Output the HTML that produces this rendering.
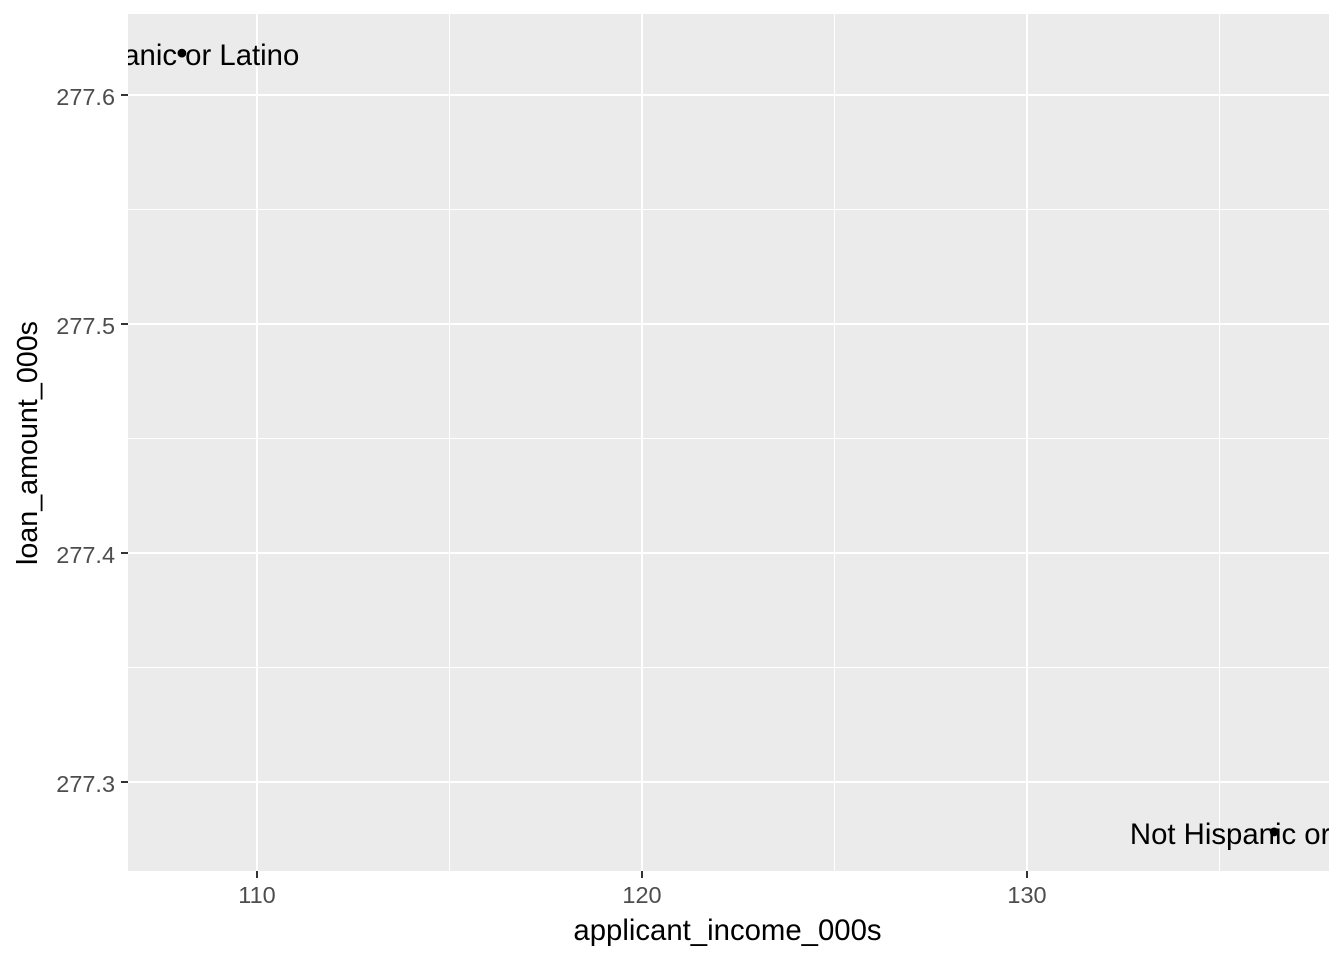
<!DOCTYPE html>
<html>
<head>
<meta charset="utf-8">
<title>Loan amount vs applicant income</title>
<style>
html,body{margin:0;padding:0;background:#fff;width:1344px;height:960px;overflow:hidden}
svg{display:block;font-family:"Liberation Sans",Arial,sans-serif}
</style>
</head>
<body>
<svg id="chart" width="1344" height="960" viewBox="0 0 1344 960" xmlns="http://www.w3.org/2000/svg">
<defs><clipPath id="panel-clip"><rect x="128" y="14" width="1201" height="857"/></clipPath></defs>
<rect x="128" y="14" width="1201" height="857" fill="#EBEBEB"/>
<g id="grid-group"></g>
<g id="tick-group"></g>
<g id="mark-group" clip-path="url(#panel-clip)"></g>
<text x="727.5" y="940" text-anchor="middle" font-size="29.33" fill="#000">applicant_income_000s</text>
<text transform="translate(37,443) rotate(-90)" text-anchor="middle" font-size="28.7" fill="#000">loan_amount_000s</text>
</svg>
<script>
const xTicks = [110, 120, 130];
const xMinor = [115, 125, 135];
const yTicks = [277.3, 277.4, 277.5, 277.6];
const yMinor = [277.35, 277.45, 277.55];
const incomes = [108.05, 136.42];
const loans = [277.6183, 277.2782];
const labels = ['Hispanic or Latino', 'Not Hispanic or Latino'];

const NS = 'http://www.w3.org/2000/svg';
const sx = v => 257 + (v - 110) * 38.5;
const sy = v => 95 + (277.6 - v) * 2290;
const panelLeft = 128, panelRight = 1329, panelTop = 14, panelBottom = 871;
const gridGroup = document.getElementById('grid-group');
const tickGroup = document.getElementById('tick-group');
const markGroup = document.getElementById('mark-group');

function drawLine(parent, x1, y1, x2, y2, color, width) {
  const l = document.createElementNS(NS, 'line');
  l.setAttribute('x1', x1);
  l.setAttribute('y1', y1);
  l.setAttribute('x2', x2);
  l.setAttribute('y2', y2);
  l.setAttribute('stroke', color);
  l.setAttribute('stroke-width', width);
  parent.appendChild(l);
  return l;
}
function drawText(parent, x, y, str, anchor, size, color) {
  const t = document.createElementNS(NS, 'text');
  t.setAttribute('x', x);
  t.setAttribute('y', y);
  t.setAttribute('text-anchor', anchor);
  t.setAttribute('font-size', size);
  t.setAttribute('fill', color);
  t.textContent = str;
  parent.appendChild(t);
  return t;
}

xMinor.forEach(v => {
  const l = drawLine(gridGroup, sx(v), panelTop, sx(v), panelBottom, '#fff', 1);
  
  
});
yMinor.forEach(v => {
  const l = drawLine(gridGroup, panelLeft, sy(v), panelRight, sy(v), '#fff', 1);
  
  
});
xTicks.forEach(v => {
  const g = drawLine(gridGroup, sx(v), panelTop, sx(v), panelBottom, '#fff', 2);
  
  
  const m = drawLine(tickGroup, sx(v), panelBottom, sx(v), panelBottom + 7, '#333', 2);
  
  
  const t = drawText(tickGroup, sx(v), 903, String(v), 'middle', 23.47, '#4D4D4D');
  
  
});
yTicks.forEach(v => {
  const g = drawLine(gridGroup, panelLeft, sy(v), panelRight, sy(v), '#fff', 2);
  
  
  const m = drawLine(tickGroup, panelLeft - 7, sy(v), panelLeft, sy(v), '#333', 2);
  
  
  const t = drawText(tickGroup, 115, sy(v) + 10, v.toFixed(1), 'end', 23.47, '#4D4D4D');
  
  
});
incomes.forEach((v, i) => {
  const c = document.createElementNS(NS, 'circle');
  c.setAttribute('cx', sx(v));
  c.setAttribute('cy', sy(loans[i]));
  c.setAttribute('r', 4.4);
  c.setAttribute('fill', '#000');
  
  
  markGroup.appendChild(c);
  const t = drawText(markGroup, sx(v), sy(loans[i]) + 12, labels[i], 'middle', 29.33, '#000');
  
  
});
</script>
</body>
</html>
